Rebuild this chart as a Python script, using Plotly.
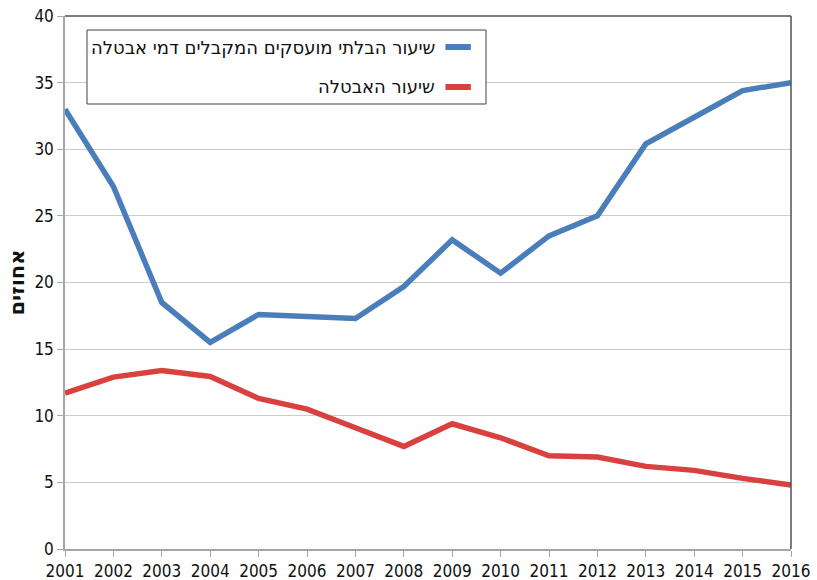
import plotly.graph_objects as go

# data
years = list(range(2001, 2017))
non_employed_benefits = [33.0, 27.2, 18.5, 15.5, 17.6, 17.4, 17.3, 19.7,
                         23.2, 20.7, 23.5, 25.0, 30.4, 32.4, 34.4, 35.0]
unemployment_rate = [11.7, 12.9, 13.4, 12.95, 11.3, 10.5, 9.1, 7.7,
                     9.4, 8.35, 7.0, 6.9, 6.2, 5.9, 5.3, 4.8]
series_names = ["שיעור הבלתי מועסקים המקבלים דמי אבטלה", "שיעור האבטלה"]
y_title = "אחוזים"

BLUE = "#4a7ebb"
RED = "#d8413e"
FONT = "DejaVu Sans Condensed, DejaVu Sans, sans-serif"

fig = go.Figure()
fig.add_trace(go.Scatter(x=years, y=non_employed_benefits, mode="lines",
                         name=series_names[0], line=dict(color=BLUE, width=5.5)))
fig.add_trace(go.Scatter(x=years, y=unemployment_rate, mode="lines",
                         name=series_names[1], line=dict(color=RED, width=5.5)))

fig.update_layout(
    width=817, height=580,
    margin=dict(l=65, r=26, t=16, b=31, autoexpand=False),
    paper_bgcolor="white", plot_bgcolor="white",
    showlegend=False,
    font=dict(family=FONT, size=17, color="#111"),
)
fig.update_xaxes(range=[2001, 2016], tickvals=years, showgrid=False, automargin=False,
                 showline=True, linecolor="#a6a6a6", linewidth=1.5,
                 ticks="outside", ticklen=6, tickcolor="#a6a6a6", zeroline=False)
fig.update_yaxes(range=[0, 40], dtick=5, showgrid=True, gridcolor="#cccccc",
                 gridwidth=1.2, showline=True, linecolor="#a6a6a6", linewidth=1.5,
                 ticks="outside", ticklen=6, tickcolor="#a6a6a6", zeroline=False,
                 automargin=False,
                 title=dict(text=f"<b>{y_title}</b>", standoff=4,
                            font=dict(family="DejaVu Sans", size=21)))

# dark frame on top and right of plot area
fig.add_shape(type="line", xref="paper", yref="paper", x0=0, x1=1, y0=1, y1=1,
              line=dict(color="#505050", width=1.5))
fig.add_shape(type="line", xref="paper", yref="paper", x0=1, x1=1, y0=0, y1=1,
              line=dict(color="#505050", width=1.5))

# custom right-to-left legend
fig.add_shape(type="rect", xref="paper", yref="paper", x0=0.0303, x1=0.5799,
              y0=0.8349, y1=0.9737, line=dict(color="#404040", width=1),
              fillcolor="white", layer="above")
for name, color, ypos in [(series_names[0], BLUE, 0.9418), (series_names[1], RED, 0.8668)]:
    fig.add_shape(type="line", xref="paper", yref="paper", x0=0.524, x1=0.559,
                  y0=ypos, y1=ypos, line=dict(color=color, width=6), layer="above")
    fig.add_annotation(xref="paper", yref="paper", x=0.5124, y=ypos, text=name,
                       showarrow=False, xanchor="right", yanchor="middle",
                       font=dict(family="DejaVu Sans", size=18, color="#111"))

# drop the default 8px body margin so the figure fills the window
fig.write_html("out.html", config={"displayModeBar": False},
               post_script="document.body.style.margin = '0';")
